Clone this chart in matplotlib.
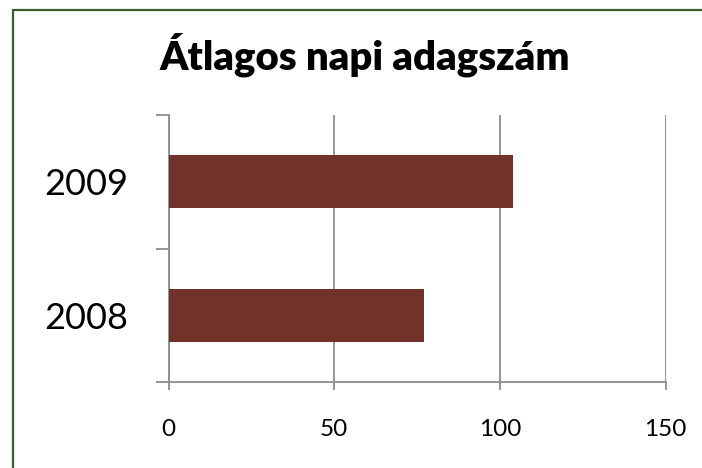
import matplotlib
matplotlib.use("Agg")
import matplotlib.pyplot as plt
from matplotlib.patches import Rectangle

categories = ["2008", "2009"]
values = [77, 104]
x_ticks = [0, 50, 100, 150]
title = "Átlagos napi adagszám"

plt.rcParams['font.family'] = ['Lato', 'DejaVu Sans']

fig = plt.figure(figsize=(7.02, 4.68), dpi=100)
ax = fig.add_axes([168.5/702, 1-382/468, (665.7-168.5)/702, (382-115)/468])

pos = list(range(len(categories)))
ax.barh(pos, values, height=0.4, color="#713329", zorder=3)

ax.set_xlim(0, 150)
ax.set_ylim(-0.5, len(categories) - 0.5)
ax.set_xticks(x_ticks)
ax.set_xticklabels([str(t) for t in x_ticks], fontsize=17.5)
ax.set_yticks(pos)
ax.set_yticklabels(categories, fontsize=26)
ax.set_yticks([p - 0.5 for p in pos] + [pos[-1] + 0.5], minor=True)

grey = "#8c8c8c"
ax.grid(axis="x", color=grey, linewidth=1.3, zorder=0)
for s in ["top", "right"]:
    ax.spines[s].set_visible(False)
for s in ["left", "bottom"]:
    ax.spines[s].set_color(grey)
    ax.spines[s].set_linewidth(1.3)
ax.tick_params(axis="y", which="major", length=0, pad=29)
ax.tick_params(axis="y", which="minor", length=9.5, width=1.3, color=grey, direction="out")
ax.tick_params(axis="x", which="major", length=6, width=1.3, color=grey, direction="out", pad=21)

fig.text(365/702, 1-55/468, title, fontsize=28.8, fontweight="heavy", ha="center", va="center")

fig.patches.append(Rectangle((13/702, -0.1), 1.2, 1-10/468 + 0.1, transform=fig.transFigure,
                             fill=False, edgecolor="#3b5e2b", linewidth=1.6))

fig.savefig("out.png", dpi=100, facecolor="white")
